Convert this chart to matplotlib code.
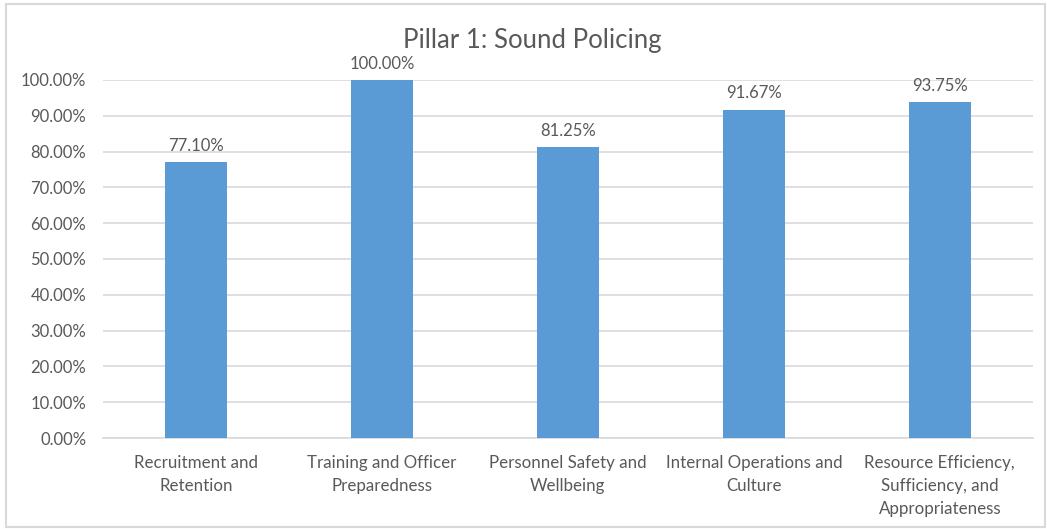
import matplotlib.pyplot as plt
from matplotlib.patches import Rectangle
from matplotlib.ticker import PercentFormatter

categories = [
    "Recruitment and\nRetention",
    "Training and Officer\nPreparedness",
    "Personnel Safety and\nWellbeing",
    "Internal Operations and\nCulture",
    "Resource Efficiency,\nSufficiency, and\nAppropriateness",
]
scores = [0.7710, 1.0000, 0.8125, 0.9167, 0.9375]
yticks = [i / 10 for i in range(11)]

BAR_COLOR = "#5B9BD5"
TEXT_COLOR = "#595959"
GRID_COLOR = "#D9D9D9"

plt.rcParams["font.family"] = ["Lato", "DejaVu Sans"]

fig = plt.figure(figsize=(10.47, 5.29), dpi=100)
ax = fig.add_axes([0.0984, 0.172, 0.888, 0.677])

x = range(len(categories))
bars = ax.bar(x, scores, width=0.335, color=BAR_COLOR, zorder=3)

for b, v in zip(bars, scores):
    ax.annotate(f"{v * 100:.2f}%", (b.get_x() + b.get_width() / 2, v),
                xytext=(0, 6), textcoords="offset points",
                ha="center", va="bottom", fontsize=12, color=TEXT_COLOR)

ax.set_xlim(-0.5, len(categories) - 0.5)
ax.set_ylim(0, 1.0)
ax.set_yticks(yticks)
ax.yaxis.set_major_formatter(PercentFormatter(1.0, decimals=2))
ax.set_xticks(list(x))
ax.set_xticklabels(categories, fontsize=12.2, color=TEXT_COLOR, linespacing=1.55)
ax.tick_params(axis="y", labelsize=12, labelcolor=TEXT_COLOR, length=0, pad=12)
ax.tick_params(axis="x", length=0, pad=12)
ax.grid(axis="y", color=GRID_COLOR, linewidth=1.2, zorder=0)
ax.set_axisbelow(True)
for side in ["top", "right", "left"]:
    ax.spines[side].set_visible(False)
ax.spines["bottom"].set_color(GRID_COLOR)
ax.spines["bottom"].set_linewidth(1.2)

fig.text(0.508, 0.923, "Pillar 1: Sound Policing", ha="center", va="center",
         fontsize=18.5, color=TEXT_COLOR)

# light frame around the whole chart area
fig.patches.append(Rectangle((0.006, 0.004), 0.992, 0.988, transform=fig.transFigure,
                             fill=False, edgecolor=GRID_COLOR, linewidth=1.5))

fig.savefig("out.png", dpi=100)
